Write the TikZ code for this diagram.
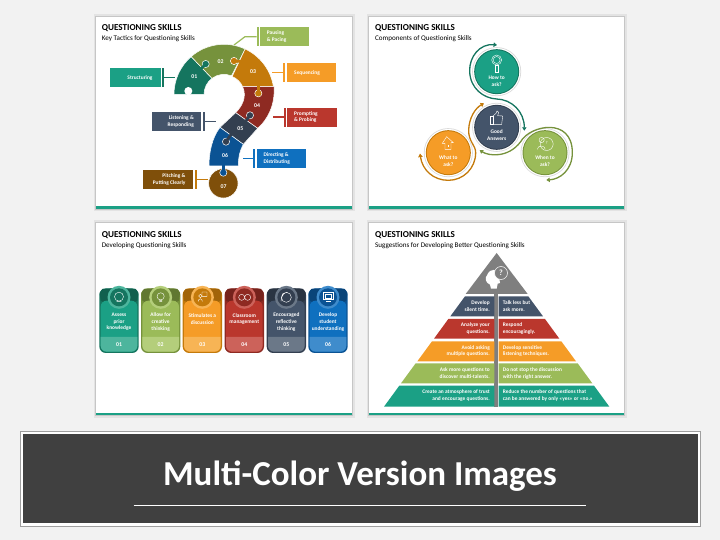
\documentclass[tikz,border=0pt]{standalone}
\usepackage{fontspec}
\setmainfont{Carlito}
\usetikzlibrary{arrows.meta}
\definecolor{bgc}{HTML}{F2F2F2}
\definecolor{teal}{HTML}{1BA085}
\definecolor{tealD}{HTML}{15755F}
\definecolor{tealL}{HTML}{4DB59D}
\definecolor{grn}{HTML}{9BBB59}
\definecolor{grnD}{HTML}{76923C}
\definecolor{grnL}{HTML}{B4CE7B}
\definecolor{org}{HTML}{F59C27}
\definecolor{orgD}{HTML}{C47A0B}
\definecolor{orgL}{HTML}{F7B455}
\definecolor{redc}{HTML}{BA372D}
\definecolor{redD}{HTML}{8E2A22}
\definecolor{redL}{HTML}{CC625A}
\definecolor{slate}{HTML}{44546A}
\definecolor{slateD}{HTML}{333F50}
\definecolor{slateL}{HTML}{6B7888}
\definecolor{blu}{HTML}{0F70BF}
\definecolor{bluD}{HTML}{0B5394}
\definecolor{bluL}{HTML}{3F8CCC}
\definecolor{brn}{HTML}{7F4F0A}
\definecolor{gry}{HTML}{7F7F7F}
\definecolor{ban}{HTML}{404040}
\tikzset{
 panelbox/.style={fill=white},
 ttl/.style={anchor=west,inner sep=0pt,font=\fontsize{9.1}{10}\selectfont\bfseries},
 sub/.style={anchor=west,inner sep=0pt,font=\fontsize{7.1}{8}\selectfont},
 wt/.style={text=white,inner sep=0pt,font=\fontsize{5.4}{6.7}\selectfont\bfseries,align=center},
 wtl/.style={wt,align=left,anchor=west},
 wtr/.style={wt,align=right,anchor=east},
 num/.style={text=white,inner sep=0pt,font=\fontsize{5.8}{7}\selectfont\bfseries},
 seg/.style={draw=white,line width=0.5pt},
 tab/.style={draw=white,line width=0.5pt},
 neck/.style={line width=2.7pt},
 link/.style={line width=1.2pt},
 swoop/.style={line width=1.3pt,{Triangle[length=3.4pt,width=4.4pt]}-{Triangle[length=3.4pt,width=4.4pt]}},
 ico/.style={draw=white,line width=0.4pt,fill=none},
}
\newcommand\panel[4]{%
 \fill[gray!22] (#1-2.5,#2-2.5) rectangle (#3+2.5,#4+2.5);
 \fill[gray!45] (#1-1,#2-1) rectangle (#3+1,#4+1);
 \fill[panelbox] (#1,#2) rectangle (#3,#4);
 \fill[teal] (#1,#4-2.5) rectangle (#3,#4);
}
\newcommand\qcard[5]{%
 \fill[#2,rounded corners=6.5pt] (#1-59,211) rectangle (#1+59,405);
 \fill[#2!82!black] (#1+20,211) -- (#1+50,213) -- (#1+58,225) -- (#1+55,248) -- (#1+25,262) -- cycle;
 \fill[#2!82!black] (#1-20,211) -- (#1-50,213) -- (#1-58,225) -- (#1-55,248) -- (#1-25,262) -- cycle;
 \fill[#3,rounded corners=6pt] (#1-55,248) rectangle (#1+55,401);
 \fill[#4] (#1-55,357) -- (#1+55,357) {[rounded corners=6pt] -- (#1+55,401) -- (#1-55,401)} -- cycle;
 \fill[#4] (#1,238) circle[radius=11.5pt];
 \fill[#2] (#1,238) circle[radius=9pt];
 \node[num] (num#5) at (#1,379) {#5};
}
\newcommand\comp[4]{%
 \fill[gray!30] (#1,#2) circle[radius=24.5pt];
 \fill[white] (#1,#2) circle[radius=23.7pt];
 \fill[#3] (#1,#2) circle[radius=22.5pt];
 \fill[#4] (#1,#2) circle[radius=21.5pt];
}
\newcommand\pyr[5]{%
 \fill[#1] (388,#2) -- (388,#3) -- (#5,#3) -- (#4,#2) -- cycle;
 \fill[#1] (401,#2) -- (401,#3) -- (790-#5,#3) -- (790-#4,#2) -- cycle;
}
\begin{document}
\begin{tikzpicture}[x=1pt,y=-1pt]
\useasboundingbox (0,0) rectangle (720,540);
\fill[bgc] (0,0) rectangle (720,540);
\panel{96}{17}{352}{209}
\panel{369}{17}{624}{209}
\panel{96}{223}{352}{415}
\panel{369}{223}{624}{415}

% ---------- panel 1
\begin{scope}[shift={(90,10)},x=0.33333pt,y=-0.33333pt]
\node[ttl] (t1) at (35,55) {QUESTIONING SKILLS};
\node[sub] (s1) at (35,86) {Key Tactics for Questioning Skills};
\coordinate (qc) at (402,253);
\fill[tealD,seg] ([shift={(180:50pt)}]qc) arc[start angle=180,end angle=131,radius=50pt] -- ([shift={(127:20pt)}]qc) arc[start angle=127,end angle=180,radius=20pt] -- cycle;
\fill[grnD,seg] ([shift={(131:50pt)}]qc) arc[start angle=131,end angle=65,radius=50pt] -- ([shift={(68:20pt)}]qc) arc[start angle=68,end angle=127,radius=20pt] -- cycle;
\fill[orgD,seg] ([shift={(65:50pt)}]qc) arc[start angle=65,end angle=9,radius=50pt] -- (458,230) arc[start angle=24,end angle=68,radius=19.5pt] -- cycle;
\fill[redD,seg] (552,230) .. controls (556,285) and (532,330) .. (503,355) -- (437,308) .. controls (455,290) and (472,262) .. (458,230) -- cycle;
\fill[slateD,seg] (437,308) -- (503,355) -- (460,403) -- (390,352) -- cycle;
\fill[bluD,seg] (390,352) .. controls (365,385) and (357,430) .. (357,468) -- (445,468) .. controls (445,440) and (450,420) .. (460,403) -- cycle;
\fill[brn,seg] (400,520) circle[radius=14.7pt];
% puzzle tabs
\fill[white] (295,243) circle[radius=4pt];
\draw[white,neck] (295,243) -- (295,260);
\fill[tealD,tab] (347,162) circle[radius=3.6pt];
\draw[tealD,neck] (347,162) -- (332,177);
\fill[orgD,tab] (432,153) circle[radius=3.6pt];
\draw[orgD,neck] (432,153) -- (460,155);
\fill[orgD,tab] (505,250) circle[radius=3.6pt];
\draw[orgD,neck] (505,250) -- (505,226);
\fill[slateD,tab] (480,316) circle[radius=3.6pt];
\draw[slateD,neck] (480,316) -- (467,334);
\fill[slateD,tab] (408,395) circle[radius=3.6pt];
\draw[slateD,neck] (408,395) -- (424,372);
\fill[bluD,tab] (400,488) circle[radius=3.6pt];
\draw[bluD,neck] (400,488) -- (400,464);
\node[num] (q1) at (313,200) {01};
\node[num] (q2) at (392,155) {02};
\node[num] (q3) at (489,186) {03};
\node[num] (q4) at (501,286) {04};
\node[num] (q5) at (451,355) {05};
\node[num] (q6) at (405,436) {06};
\node[num] (q7) at (401,530) {07};
% callouts
\fill[teal] (60,175) rectangle (212,232);
\fill[tealD] (216,175) rectangle (221,232);
\node[wtr] (l1) at (188,203) {Structuring};
\coordinate (e1a) at (221,203); \coordinate (e1b) at (255,203);
\draw[link,tealD] (e1a) -- (e1b);
\fill[grn] (510,52) rectangle (658,109);
\fill[grn] (500,52) rectangle (506,109);
\node[wtl] (l2) at (530,80) {Pausing\\\& Pacing};
\coordinate (e2a) at (500,80); \coordinate (e2b) at (465,80); \coordinate (e2c) at (432,105);
\draw[link,grn] (e2a) -- (e2b) -- (e2c);
\fill[org] (590,160) rectangle (738,217);
\fill[org] (580,160) rectangle (585,217);
\node[wtl] (l3) at (612,188) {Sequencing};
\coordinate (e3a) at (580,188); \coordinate (e3b) at (547,188);
\draw[link,org] (e3a) -- (e3b);
\fill[redc] (592,293) rectangle (740,350);
\fill[redc] (583,293) rectangle (588,350);
\node[wtl] (l4) at (612,321) {Prompting\\\& Probing};
\coordinate (e4a) at (583,321); \coordinate (e4b) at (548,321);
\draw[link,redc] (e4a) -- (e4b);
\fill[slate] (185,307) rectangle (333,364);
\fill[slate] (340,307) rectangle (345,364);
\node[wtr] (l5) at (312,335) {Listening \&\\Responding};
\coordinate (e5a) at (345,335); \coordinate (e5b) at (378,335);
\draw[link,slate] (e5a) -- (e5b);
\fill[blu] (500,417) rectangle (648,474);
\fill[blu] (490,417) rectangle (495,474);
\node[wtl] (l6) at (520,445) {Directing \&\\Distributing};
\coordinate (e6a) at (490,445); \coordinate (e6b) at (458,445);
\draw[link,blu] (e6a) -- (e6b);
\fill[brn] (160,479) rectangle (308,537);
\fill[orgD] (315,479) rectangle (320,537);
\node[wtr] (l7) at (287,508) {Pitching \&\\Putting Clearly};
\coordinate (e7a) at (320,508); \coordinate (e7b) at (355,508);
\draw[link,orgD] (e7a) -- (e7b);
\end{scope}

% ---------- panel 2
\begin{scope}[shift={(365,10)},x=0.33333pt,y=-0.33333pt]
\node[ttl] (t2) at (30,55) {QUESTIONING SKILLS};
\node[sub] (s2) at (30,86) {Components of Questioning Skills};
\comp{395}{185}{tealD}{teal}
\comp{395}{352}{slateD}{slate}
\comp{250}{428}{orgD}{org}
\comp{540}{428}{grnD}{grn}
\node[wt] (c1) at (395,214) {How to\\ask?};
\node[wt] (c2) at (395,376) {Good\\Answers};
\node[wt] (c3) at (250,453) {What to\\ask?};
\node[wt] (c4) at (540,453) {When to\\ask?};
% swoops
\coordinate (g1) at (396,105);
\coordinate (g2) at (478,362);
\draw[swoop,tealD] (g1) .. controls (345,100) and (312,140) .. (314,185) .. controls (316,235) and (355,265) .. (395,267) .. controls (440,268) and (478,305) .. (g2);
\coordinate (g3) at (344,420);
\coordinate (g4) at (544,510);
\draw[swoop,grnD] (g3) .. controls (370,438) and (430,445) .. (467,395) .. controls (495,345) and (622,320) .. (622,428) .. controls (622,480) and (585,508) .. (g4);
\coordinate (g5) at (165,431);
\coordinate (g6) at (357,280);
\draw[swoop,orgD] (g5) .. controls (172,480) and (205,511) .. (250,511) .. controls (295,511) and (332,475) .. (332,428) .. controls (332,405) and (310,395) .. (311,360) .. controls (312,325) and (330,295) .. (g6);
% icons
\draw[ico] (395,150) circle[radius=5pt] (395,150) circle[radius=3.5pt];
\draw[ico] (390,165) rectangle (400,187);
\draw[ico] (376,318) rectangle (384,343);
\draw[ico] (384,318) -- (393,310) -- (396,303) -- (401,307) -- (398,317) -- (413,318) -- (410,343) -- (384,343);
\draw[ico] (232,400) -- (245,380) -- (265,398) -- (258,398) -- (258,418) -- (240,418) -- (240,400) -- cycle;
\draw[ico] (250,405) -- (250,412);
\draw[ico] (545,402) circle[radius=6.5pt];
\draw[ico] (530,390) circle[radius=2.6pt] (517,418) .. controls (517,405) and (540,405) .. (541,418);
\node[wt,font=\fontsize{4.5}{5}\selectfont] (qm) at (545,398) {?};
\end{scope}

% ---------- panel 3
\begin{scope}[shift={(90,218)},x=0.33333pt,y=-0.33333pt]
\node[ttl] (t3) at (35,51) {QUESTIONING SKILLS};
\node[sub] (s3) at (35,83) {Developing Questioning Skills};
\qcard{87}{tealD}{teal}{tealL}{01}
\qcard{212}{grnD}{grn}{grnL}{02}
\qcard{337}{orgD}{org}{orgL}{03}
\qcard{463}{redD}{redc}{redL}{04}
\qcard{589}{slateD}{slate}{slateL}{05}
\qcard{714}{bluD}{blu}{bluL}{06}
\node[wt] (b1) at (87,312) {Assess\\prior\\knowledge};
\node[wt] (b2) at (212,312) {Allow for\\creative\\thinking};
\node[wt] (b3) at (337,303) {Stimulates a\\discussion};
\node[wt] (b4) at (463,303) {Classroom\\management};
\node[wt] (b5) at (589,312) {Encouraged\\reflective\\thinking};
\node[wt] (b6) at (714,312) {Develop\\student\\understanding};
% icons
\draw[ico] (87,236) circle[radius=4.5pt] (80,250) -- (94,250);
\draw[ico] (212,235) circle[radius=3.6pt] (208,247) -- (216,247) (208,250) -- (216,250);
\draw[ico] (325,250) .. controls (325,240) and (337,240) .. (337,250) (331,234) circle[radius=1.8pt] (336,222) rectangle (351,235);
\draw[ico] (455,238) circle[radius=3pt] (473,238) circle[radius=3pt];
\draw[ico] (589,238) circle[radius=5pt] (573,250) .. controls (575,228) and (585,222) .. (594,224);
\draw[ico] (701,224) rectangle (729,245) (707,229) rectangle (723,240) (708,251) -- (722,251);
\end{scope}

% ---------- panel 4
\begin{scope}[shift={(365,218)},x=0.33333pt,y=-0.33333pt]
\node[ttl] (t4) at (30,51) {QUESTIONING SKILLS};
\node[sub] (s4) at (30,83) {Suggestions for Developing Better Questioning Skills};
\fill[gry] (395,105) -- (488,228) -- (302,228) -- cycle;
\fill[gry] (388,228) rectangle (400,567);
\fill[white] (367,170) .. controls (375,150) and (400,150) .. (402,175) -- (405,195) -- (398,197) -- (395,212) -- (378,212) -- (375,200) .. controls (362,195) and (358,180) .. (367,170);
\draw[white,fill=gry,line width=0.5pt] (408,165) circle[radius=6.5pt];
\node[text=white,inner sep=0pt,font=\fontsize{8}{9}\selectfont\bfseries] (qm4) at (408,165) {?};
\pyr{slate}{235}{295}{300}{256}
\pyr{redc}{303}{362}{250}{207}
\pyr{org}{370}{430}{201}{157}
\pyr{grn}{436}{496}{152}{108}
\pyr{teal}{503}{566}{103}{57}
\node[wtr] (p1) at (375,265) {Develop\\silent time.};
\node[wtl] (p2) at (413,265) {Talk less but\\ask more.};
\node[wtr] (p3) at (375,332) {Analyze your\\questions.};
\node[wtl] (p4) at (413,332) {Respond\\encouragingly.};
\node[wtr] (p5) at (375,399) {Avoid asking\\multiple questions.};
\node[wtl] (p6) at (413,399) {Develop sensitive\\listening techniques.};
\node[wtr] (p7) at (375,466) {Ask more questions to\\discover multi-talents.};
\node[wtl] (p8) at (413,466) {Do not stop the discussion\\with the right answer.};
\node[wtr] (p9) at (375,533) {Create an atmosphere of trust\\and encourage questions.};
\node[wtl] (p10) at (413,533) {Reduce the number of questions that\\can be answered by only «yes» or «no.»};
\end{scope}

% ---------- banner
\fill[gray!75] (19.5,431) rectangle (701,526.5);
\fill[white] (20.5,432) rectangle (700,525.5);
\fill[ban] (23,434) rectangle (697.5,523);
\node[text=white,inner sep=0pt,font=\fontsize{35}{38}\selectfont\bfseries] (bt) at (360,476) {Multi-Color Version Images};
\coordinate (ba) at (133.5,505.5); \coordinate (bb) at (586,505.5);
\draw[white,line width=0.6pt] (ba) -- (bb);
\end{tikzpicture}
\end{document}
